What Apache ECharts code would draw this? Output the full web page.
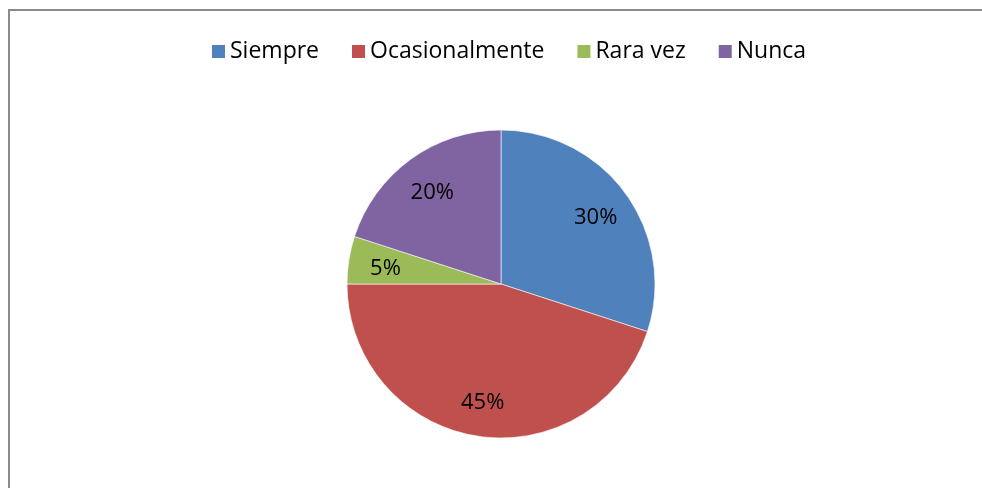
<!DOCTYPE html>
<html>
<head>
<meta charset="utf-8">
<script src="https://cdn.jsdelivr.net/npm/echarts@6/dist/echarts.min.js"></script>
<style>
  html, body { margin: 0; padding: 0; background: #fff; }
  #chart { width: 982px; height: 488px; }
</style>
</head>
<body>
<div id="chart"></div>
<script>
const categories = ['Siempre', 'Ocasionalmente', 'Rara vez', 'Nunca']
const values = [30, 45, 5, 20]
const colors = ['#4F81BD', '#C0504D', '#9BBB59', '#8064A2']

const font = '"Open Sans", "DejaVu Sans", sans-serif'
const pieData = categories.map((name, i) => ({
  name,
  value: values[i],
  itemStyle: { color: colors[i] }
}))

const option = {
  animation: false,
  backgroundColor: '#fff',
  legend: {
    data: categories,
    top: 35,
    left: 207,
    itemWidth: 13,
    itemHeight: 13,
    itemGap: 33,
    icon: 'rect',
    itemStyle: { borderWidth: 0 },
    textStyle: {
      fontFamily: font,
      fontSize: 23,
      color: '#000'
    }
  },
  graphic: [
    {
      type: 'rect',
      shape: { x: 9, y: 10, width: 1000, height: 600 },
      style: { fill: 'none', stroke: '#8a8a8a', lineWidth: 2 },
      silent: true
    }
  ],
  series: [
    {
      // visible slices
      type: 'pie',
      center: [501, 284],
      radius: 154,
      startAngle: 90,
      clockwise: true,
      data: pieData,
      itemStyle: { borderColor: '#fff', borderWidth: 0.6 },
      label: { show: false },
      labelLine: { show: false },
      emphasis: { disabled: true }
    },
    {
      // transparent ring only used to place the percent labels further out
      type: 'pie',
      center: [501, 287],
      radius: 228,
      startAngle: 90,
      clockwise: true,
      silent: true,
      legendHoverLink: false,
      data: values.map((v, i) => ({ name: categories[i] + ' ', value: v })),
      itemStyle: { color: 'rgba(0,0,0,0)' },
      label: {
        show: true,
        position: 'inside',
        formatter: '{d}%',
        fontFamily: font,
        fontSize: 22,
        color: '#000'
      },
      labelLine: { show: false },
      emphasis: { disabled: true }
    }
  ]
}

const myChart = echarts.init(document.getElementById('chart'))
myChart.setOption(option)
</script>
</body>
</html>
